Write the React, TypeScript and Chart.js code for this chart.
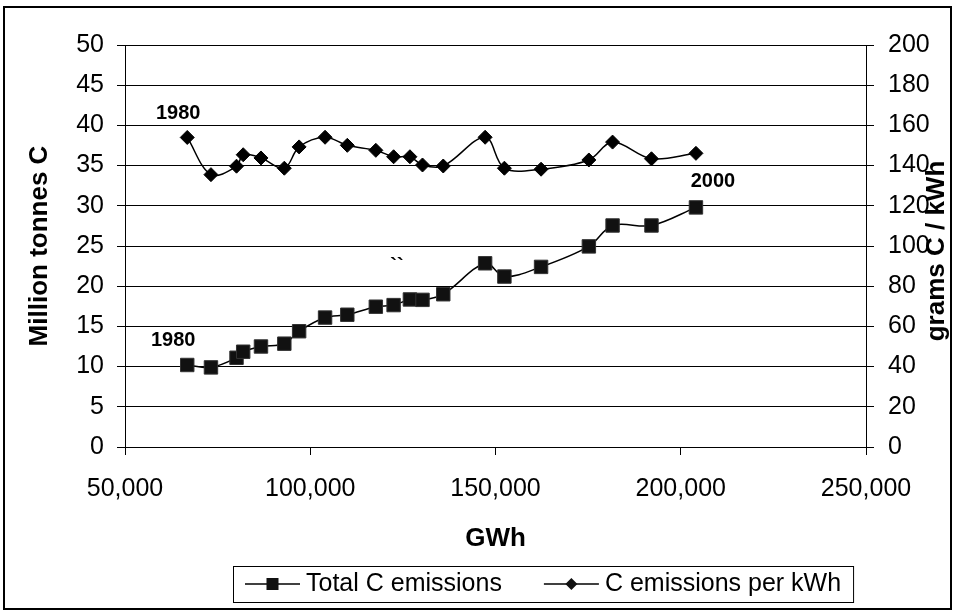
import React, { useEffect, useRef } from 'react';
import { Chart, registerables } from 'chart.js';

Chart.register(...registerables);

// ---- data ----
const years = [1980, 1981, 1982, 1983, 1984, 1985, 1986, 1987, 1988, 1989, 1990,
  1991, 1992, 1993, 1994, 1995, 1996, 1997, 1998, 1999, 2000];
const gwh = [66800, 73200, 80100, 81900, 86700, 93000, 97000, 104000, 110000, 117700, 122500,
  126900, 130300, 135900, 147200, 152400, 162300, 175200, 181600, 192100, 204100];
const totalC = [10.2, 9.9, 11.1, 11.85, 12.5, 12.85, 14.4, 16.1, 16.45, 17.45, 17.65,
  18.35, 18.3, 19.0, 22.85, 21.2, 22.4, 24.95, 27.55, 27.55, 29.8];
const perKWh = [154.0, 135.5, 139.7, 145.4, 143.8, 138.7, 149.3, 154.1, 150.1, 147.6, 144.4,
  144.4, 140.3, 139.8, 154.1, 138.7, 138.2, 142.8, 151.7, 143.4, 146.1];

const seriesNames = ['Total C emissions', 'C emissions per kWh'];
const xTitle = 'GWh';
const yLeftTitle = 'Million tonnes C';
const yRightTitle = 'grams C / kWh';
const xRange = [50000, 250000, 50000];
const yLeftRange = [0, 50, 5];
const yRightRange = [0, 200, 20];
// year labels attached to points: [dataset, index, dx, dy]
const yearLabels: [number, number, number, number][] = [
  [0, 0, -14, -25],
  [0, 20, 17, -26],
  [1, 0, -9, -24],
];
const strayMark = { x: 123400, y: 22.4, text: '``' };

const FONT = "'Liberation Sans', Arial, sans-serif";

const decorPlugin = {
  id: 'decor',
  afterDatasetsDraw(chart: any) {
    const ctx = chart.ctx;
    ctx.save();
    ctx.fillStyle = '#000';
    ctx.textAlign = 'center';
    ctx.textBaseline = 'middle';
    ctx.font = `bold 20px ${FONT}`;
    yearLabels.forEach(([ds, idx, dx, dy]) => {
      const pt = chart.getDatasetMeta(ds).data[idx];
      ctx.fillText(String(years[idx]), pt.x + dx, pt.y + dy);
    });
    const sx = chart.scales.x.getPixelForValue(strayMark.x);
    const sy = chart.scales.y.getPixelForValue(strayMark.y);
    ctx.fillText(strayMark.text, sx, sy);
    ctx.restore();
  },
  afterDraw(chart: any) {
    const ctx = chart.ctx;
    const area = chart.chartArea;
    ctx.save();
    // right axis title (reads bottom to top)
    ctx.fillStyle = '#000';
    ctx.font = `bold 26px ${FONT}`;
    ctx.textAlign = 'center';
    ctx.textBaseline = 'middle';
    ctx.translate(937, (area.top + area.bottom) / 2 + 5);
    ctx.rotate(-Math.PI / 2);
    ctx.fillText(yRightTitle, 0, 0);
    ctx.restore();

    // legend
    ctx.save();
    ctx.font = `25px ${FONT}`;
    ctx.textBaseline = 'middle';
    ctx.textAlign = 'left';
    const left = 233, top = 566, h = 36;
    const cy = top + h / 2;
    let x = left + 12;
    chart.data.datasets.forEach((ds: any, i: number) => {
      ctx.strokeStyle = '#000';
      ctx.lineWidth = 1.5;
      ctx.beginPath();
      ctx.moveTo(x, cy);
      ctx.lineTo(x + 55, cy);
      ctx.stroke();
      const mx = x + 27.5;
      ctx.fillStyle = '#111';
      if (i === 0) {
        ctx.fillRect(mx - 6, cy - 6, 12, 12);
      } else {
        ctx.beginPath();
        ctx.moveTo(mx - 6, cy);
        ctx.lineTo(mx, cy - 6);
        ctx.lineTo(mx + 6, cy);
        ctx.lineTo(mx, cy + 6);
        ctx.closePath();
        ctx.fill();
      }
      ctx.fillStyle = '#000';
      ctx.fillText(ds.label, x + 61, cy);
      x = x + 61 + ctx.measureText(ds.label).width + 42;
    });
    const right = x - 42 + 12;
    ctx.strokeStyle = '#000';
    ctx.lineWidth = 1;
    ctx.strokeRect(left + 0.5, top + 0.5, right - left, h);

    // outer frame
    ctx.lineWidth = 2;
    ctx.strokeRect(4, 7, 947, 602);
    ctx.restore();
  },
};

export default function App() {
  const ref = useRef<HTMLCanvasElement | null>(null);
  useEffect(() => {
    if (!ref.current) return;
    const tickFont = { family: FONT, size: 25 };
    const titleFont = { family: FONT, size: 26, weight: 'bold' as const };
    const chart = new Chart(ref.current, {
      type: 'line',
      data: {
        datasets: [
          {
            label: seriesNames[0],
            data: gwh.map((g, i) => ({ x: g, y: totalC[i] })),
            yAxisID: 'y',
            borderColor: '#000',
            borderWidth: 1.5,
            tension: 0.35,
            pointStyle: 'rect',
            pointRadius: 9.5,
            pointBackgroundColor: '#111',
            pointBorderColor: '#333',
            pointBorderWidth: 1,
          },
          {
            label: seriesNames[1],
            data: gwh.map((g, i) => ({ x: g, y: perKWh[i] })),
            yAxisID: 'y1',
            borderColor: '#000',
            borderWidth: 1.5,
            tension: 0.35,
            pointStyle: 'rectRot',
            pointRadius: 7,
            pointBackgroundColor: '#000',
            pointBorderColor: '#000',
            pointBorderWidth: 1,
          },
        ],
      },
      options: {
        animation: false,
        responsive: false,
        layout: { padding: { top: 45, bottom: 53, left: 0, right: 0 } },
        plugins: { legend: { display: false }, tooltip: { enabled: false } },
        scales: {
          x: {
            type: 'linear',
            position: 'bottom',
            min: xRange[0],
            max: xRange[1],
            ticks: {
              stepSize: xRange[2],
              color: '#000',
              font: tickFont,
              padding: 19,
              maxRotation: 0,
              callback: (v: any) => Number(v).toLocaleString('en-US'),
            },
            grid: { drawOnChartArea: false, drawTicks: true, tickLength: 8, color: '#000' },
            border: { color: '#000', width: 1 },
            title: { display: true, text: xTitle, color: '#000', font: titleFont, padding: { top: 0, bottom: 6 } },
            afterFit: (s: any) => { s.height = 113; },
          },
          y: {
            type: 'linear',
            position: 'left',
            min: yLeftRange[0],
            max: yLeftRange[1],
            ticks: { stepSize: yLeftRange[2], color: '#000', font: tickFont, padding: 13 },
            grid: { color: '#000', lineWidth: 1, tickLength: 8 },
            border: { color: '#000', width: 1 },
            title: { display: true, text: yLeftTitle, color: '#000', font: titleFont, padding: { top: 24, bottom: 0 } },
            afterFit: (s: any) => { s.width = 125; },
          },
          y1: {
            type: 'linear',
            position: 'right',
            min: yRightRange[0],
            max: yRightRange[1],
            ticks: { stepSize: yRightRange[2], color: '#000', font: tickFont, padding: 14 },
            grid: { drawOnChartArea: false, tickLength: 8, color: '#000' },
            border: { color: '#000', width: 1 },
            afterFit: (s: any) => { s.width = 89; },
          },
        },
      },
      plugins: [decorPlugin],
    });
    return () => chart.destroy();
  }, []);
  return (
    <div style={{ position: 'absolute', left: 0, top: 0, width: 955, height: 613, background: '#fff' }}>
      <canvas ref={ref} width={955} height={613} style={{ width: 955, height: 613 }} />
    </div>
  );
}
